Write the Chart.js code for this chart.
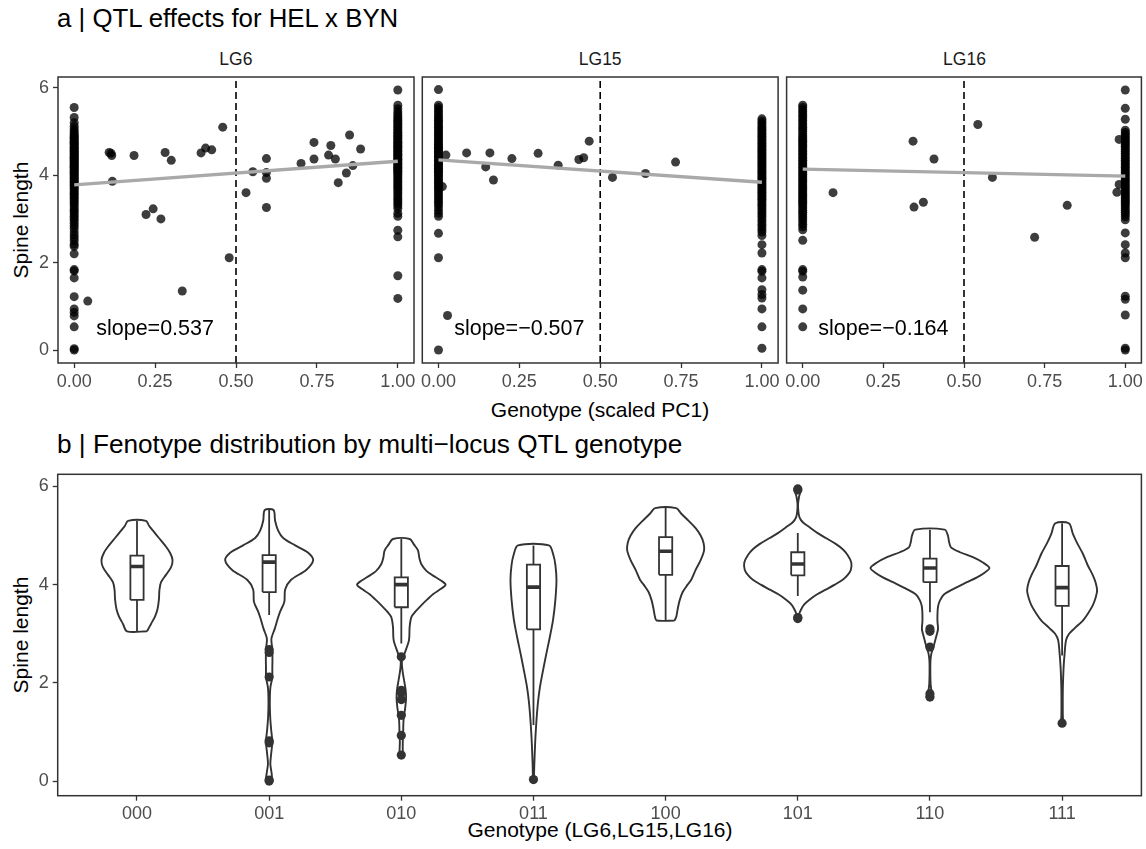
<!DOCTYPE html>
<html>
<head>
<meta charset="utf-8">
<script src="https://cdn.jsdelivr.net/npm/chart.js@4.4.0/dist/chart.umd.min.js"></script>
<style>
html,body{margin:0;padding:0;background:#fff;}
#page{position:relative;width:1146px;height:849px;overflow:hidden;background:#fff;font-family:"Liberation Sans",Arial,Helvetica,sans-serif;}
.wrap{position:absolute;}
.txt{position:absolute;white-space:nowrap;line-height:1;color:#000;}
.ctr{transform:translateX(-50%);}
.rot{transform:translate(-50%,-50%) rotate(-90deg);}
</style>
</head>
<body>
<div id="page">
  <div class="txt" style="left:57px;top:6.2px;font-size:25.8px;">a | QTL effects for HEL x BYN</div>
  <div class="txt ctr" style="left:235.9px;top:51px;font-size:17.5px;color:#1A1A1A;">LG6</div>
  <div class="txt ctr" style="left:600.2px;top:51px;font-size:17.5px;color:#1A1A1A;">LG15</div>
  <div class="txt ctr" style="left:964.5px;top:51px;font-size:17.5px;color:#1A1A1A;">LG16</div>
  <div class="txt rot" style="left:19.6px;top:220px;font-size:21px;">Spine length</div>
  <div class="txt ctr" style="left:600px;top:399.2px;font-size:21px;">Genotype (scaled PC1)</div>
  <div class="txt" style="left:57px;top:431px;font-size:26.2px;">b | Fenotype distribution by multi−locus QTL genotype</div>
  <div class="txt rot" style="left:19.6px;top:635px;font-size:21px;">Spine length</div>
  <div class="txt ctr" style="left:600px;top:819.2px;font-size:21px;">Genotype (LG6,LG15,LG16)</div>

  <div class="wrap" style="left:0px;top:40px;width:420px;height:360px;"><canvas id="f1"></canvas></div>
  <div class="wrap" style="left:416px;top:40px;width:370px;height:360px;"><canvas id="f2"></canvas></div>
  <div class="wrap" style="left:780px;top:40px;width:366px;height:360px;"><canvas id="f3"></canvas></div>
  <div class="wrap" style="left:0px;top:440px;width:1146px;height:409px;"><canvas id="vb"></canvas></div>
</div>
<script>
// ---------------- DATA ----------------
const facetLabels = ['LG6', 'LG15', 'LG16'];
const slopeLabels = ['slope=0.537', 'slope=−0.507', 'slope=−0.164'];
const xTicksA = [0, 0.25, 0.5, 0.75, 1];
const yTicks = [0, 2, 4, 6];

// LG6: spine length of individuals at genotype 0 and 1, plus intermediate genotypes
const lg6At0 = [5.55, 5.32, 5.2, 5.12, 5.06, 5.01, 4.97, 4.93, 4.9, 4.87, 4.84, 4.81, 4.78, 4.75, 4.73, 4.7, 4.67, 4.64, 4.62, 4.59, 4.56, 4.54, 4.51, 4.49, 4.46, 4.44, 4.41, 4.39, 4.36, 4.33, 4.31, 4.28, 4.26, 4.23, 4.2, 4.18, 4.15, 4.12, 4.1, 4.07, 4.04, 4.01, 3.98, 3.95, 3.92, 3.89, 3.86, 3.83, 3.8, 3.77, 3.73, 3.7, 3.66, 3.62, 3.59, 3.55, 3.51, 3.47, 3.43, 3.39, 3.35, 3.3, 3.25, 3.2, 3.16, 3.11, 3.06, 3.01, 2.96, 2.9, 2.84, 2.78, 2.7, 2.63, 2.57, 2.5, 2.42, 2.37, 2.2, 1.84, 1.81, 1.65, 1.22, 0.94, 0.86, 0.78, 0.53, 0.03, 0.0];
const lg6At1 = [5.95, 5.6, 5.52, 5.45, 5.4, 5.35, 5.3, 5.26, 5.22, 5.18, 5.14, 5.1, 5.06, 5.02, 4.98, 4.95, 4.91, 4.88, 4.85, 4.82, 4.78, 4.75, 4.72, 4.69, 4.66, 4.63, 4.6, 4.57, 4.54, 4.51, 4.48, 4.45, 4.42, 4.39, 4.36, 4.33, 4.3, 4.27, 4.24, 4.21, 4.18, 4.15, 4.12, 4.09, 4.06, 4.02, 3.98, 3.94, 3.9, 3.86, 3.82, 3.78, 3.74, 3.7, 3.65, 3.6, 3.55, 3.5, 3.45, 3.4, 3.35, 3.3, 3.24, 3.13, 3.06, 2.74, 2.59, 1.7, 1.18];
const lg6MidX = [0.042, 0.108, 0.114, 0.116, 0.118, 0.185, 0.222, 0.244, 0.268, 0.281, 0.300, 0.334, 0.392, 0.406, 0.425, 0.459, 0.479, 0.531, 0.552, 0.594, 0.594, 0.594, 0.594, 0.701, 0.741, 0.741, 0.786, 0.793, 0.807, 0.816, 0.841, 0.851, 0.861, 0.885];
const lg6MidY = [1.12, 4.52, 4.50, 4.45, 3.86, 4.45, 3.10, 3.23, 3.00, 4.52, 4.34, 1.35, 4.51, 4.62, 4.58, 5.10, 2.11, 3.60, 4.08, 4.38, 4.06, 3.93, 3.26, 4.27, 4.75, 4.37, 4.46, 4.68, 4.37, 3.83, 4.05, 4.92, 4.22, 4.60];
const lg6Fit = [3.78, 4.32];

// LG15
const lg15At0 = [5.96, 5.6, 5.55, 5.5, 5.45, 5.4, 5.35, 5.3, 5.26, 5.22, 5.18, 5.14, 5.1, 5.06, 5.02, 4.98, 4.94, 4.9, 4.86, 4.82, 4.78, 4.74, 4.7, 4.67, 4.64, 4.61, 4.58, 4.55, 4.52, 4.49, 4.46, 4.43, 4.4, 4.37, 4.34, 4.31, 4.28, 4.25, 4.22, 4.19, 4.16, 4.13, 4.1, 4.07, 4.04, 4.0, 3.96, 3.92, 3.88, 3.84, 3.8, 3.76, 3.72, 3.68, 3.63, 3.58, 3.53, 3.48, 3.43, 3.38, 3.33, 3.27, 3.2, 3.13, 3.06, 2.67, 2.11, 0.0];
const lg15At1 = [5.29, 5.24, 5.19, 5.14, 5.09, 5.05, 5.01, 4.97, 4.93, 4.89, 4.85, 4.81, 4.77, 4.73, 4.69, 4.65, 4.61, 4.57, 4.53, 4.49, 4.45, 4.41, 4.37, 4.33, 4.29, 4.25, 4.21, 4.17, 4.13, 4.09, 4.05, 4.01, 3.97, 3.93, 3.89, 3.85, 3.81, 3.77, 3.73, 3.69, 3.65, 3.61, 3.57, 3.53, 3.49, 3.45, 3.41, 3.36, 3.31, 3.26, 3.21, 3.16, 3.11, 3.06, 3.0, 2.94, 2.88, 2.82, 2.76, 2.7, 2.62, 2.41, 2.22, 1.84, 1.8, 1.65, 1.38, 1.27, 1.19, 0.94, 0.53, 0.04];
const lg15MidX = [0.012, 0.023, 0.028, 0.087, 0.146, 0.159, 0.170, 0.227, 0.308, 0.370, 0.434, 0.449, 0.466, 0.538, 0.640, 0.733];
const lg15MidY = [3.74, 4.46, 0.79, 4.51, 4.19, 4.51, 3.89, 4.38, 4.50, 4.23, 4.36, 4.40, 4.78, 3.95, 4.04, 4.30];
const lg15Fit = [4.35, 3.84];

// LG16
const lg16At0 = [5.6, 5.55, 5.5, 5.45, 5.4, 5.35, 5.3, 5.25, 5.2, 5.15, 5.1, 5.05, 5.0, 4.95, 4.9, 4.86, 4.82, 4.78, 4.74, 4.7, 4.66, 4.62, 4.58, 4.54, 4.5, 4.46, 4.42, 4.38, 4.34, 4.3, 4.26, 4.22, 4.18, 4.14, 4.1, 4.06, 4.02, 3.98, 3.94, 3.9, 3.86, 3.82, 3.78, 3.74, 3.7, 3.66, 3.62, 3.58, 3.54, 3.5, 3.46, 3.42, 3.38, 3.34, 3.3, 3.25, 3.2, 3.15, 3.1, 3.05, 3.0, 2.94, 2.88, 2.82, 2.75, 2.51, 1.84, 1.8, 1.67, 1.37, 0.94, 0.53];
const lg16At1 = [5.95, 5.53, 5.28, 5.03, 4.98, 4.94, 4.9, 4.86, 4.82, 4.78, 4.74, 4.7, 4.66, 4.62, 4.58, 4.54, 4.5, 4.46, 4.42, 4.38, 4.34, 4.3, 4.26, 4.22, 4.18, 4.14, 4.1, 4.06, 4.02, 3.98, 3.94, 3.9, 3.86, 3.82, 3.78, 3.74, 3.7, 3.66, 3.62, 3.58, 3.54, 3.5, 3.46, 3.42, 3.38, 3.34, 3.3, 3.25, 3.2, 3.15, 3.1, 3.05, 2.98, 2.68, 2.41, 2.22, 2.11, 1.23, 1.16, 0.8, 0.04, 0.0];
const lg16MidX = [0.094, 0.342, 0.345, 0.374, 0.407, 0.543, 0.588, 0.719, 0.820, 0.974, 0.981, 0.981];
const lg16MidY = [3.60, 4.78, 3.27, 3.38, 4.37, 5.16, 3.95, 2.58, 3.31, 3.61, 4.82, 3.79];
const lg16Fit = [4.14, 3.98];

// Panel b: multi-locus genotypes
const genotypes = ['000', '001', '010', '011', '100', '101', '110', '111'];
// violin profiles: spine length levels and half-widths (in category units)
const v000Y = [3.05, 3.2, 3.35, 3.5, 3.7, 3.9, 4.05, 4.2, 4.35, 4.5, 4.65, 4.8, 4.95, 5.1, 5.2, 5.3];
const v000W = [0.076, 0.106, 0.136, 0.155, 0.166, 0.170, 0.182, 0.219, 0.257, 0.269, 0.250, 0.212, 0.166, 0.121, 0.091, 0.068];
const v001Y = [0.0, 0.15, 0.35, 0.55, 0.8, 1.05, 1.3, 1.6, 1.9, 2.1, 2.3, 2.5, 2.7, 2.9, 3.1, 3.3, 3.45, 3.65, 3.9, 4.1, 4.3, 4.5, 4.65, 4.8, 4.95, 5.1, 5.3, 5.52];
const v001W = [0.023, 0.019, 0.009, 0.015, 0.024, 0.015, 0.008, 0.005, 0.009, 0.023, 0.024, 0.025, 0.023, 0.017, 0.042, 0.064, 0.083, 0.115, 0.121, 0.166, 0.280, 0.333, 0.295, 0.197, 0.106, 0.068, 0.045, 0.033];
const v010Y = [0.53, 0.8, 1.0, 1.25, 1.5, 1.7, 1.85, 2.05, 2.25, 2.45, 2.6, 2.87, 3.14, 3.34, 3.45, 3.58, 3.7, 3.81, 3.92, 4.0, 4.08, 4.15, 4.28, 4.42, 4.55, 4.7, 4.82, 4.93];
const v010W = [0.011, 0.011, 0.014, 0.017, 0.030, 0.036, 0.033, 0.021, 0.009, 0.005, 0.025, 0.058, 0.063, 0.076, 0.106, 0.151, 0.197, 0.242, 0.303, 0.335, 0.303, 0.260, 0.190, 0.151, 0.136, 0.126, 0.095, 0.064];
const v011Y = [0.03, 0.3, 0.6, 0.9, 1.25, 1.6, 1.9, 2.25, 2.6, 2.95, 3.3, 3.7, 4.1, 4.4, 4.6, 4.8];
const v011W = [0.003, 0.006, 0.010, 0.015, 0.023, 0.034, 0.048, 0.072, 0.098, 0.125, 0.149, 0.166, 0.174, 0.166, 0.151, 0.117];
const v100Y = [3.27, 3.35, 3.5, 3.68, 3.85, 4.0, 4.1, 4.3, 4.5, 4.7, 4.85, 5.0, 5.15, 5.3, 5.45, 5.56];
const v100W = [0.068, 0.081, 0.091, 0.106, 0.129, 0.166, 0.194, 0.227, 0.265, 0.291, 0.287, 0.265, 0.227, 0.174, 0.117, 0.079];
const v101Y = [3.31, 3.4, 3.5, 3.6, 3.7, 3.8, 3.9, 4.0, 4.1, 4.2, 4.3, 4.45, 4.6, 4.72, 4.83, 4.95, 5.05, 5.17, 5.27, 5.37, 5.5, 5.64, 5.78, 5.93];
const v101W = [0.019, 0.011, 0.026, 0.049, 0.091, 0.144, 0.212, 0.280, 0.340, 0.378, 0.401, 0.405, 0.378, 0.340, 0.287, 0.212, 0.151, 0.089, 0.038, 0.013, 0.004, 0.002, 0.009, 0.019];
const v110Y = [1.71, 1.8, 1.95, 2.2, 2.45, 2.6, 2.72, 2.85, 3.0, 3.1, 3.25, 3.4, 3.55, 3.68, 3.8, 3.92, 4.05, 4.15, 4.25, 4.34, 4.45, 4.56, 4.66, 4.76, 4.88, 5.0, 5.12];
const v110W = [0.026, 0.015, 0.006, 0.003, 0.004, 0.011, 0.026, 0.038, 0.053, 0.061, 0.057, 0.057, 0.061, 0.076, 0.106, 0.182, 0.280, 0.356, 0.416, 0.450, 0.401, 0.325, 0.227, 0.159, 0.144, 0.136, 0.111];
const v111Y = [1.18, 1.3, 1.6, 1.92, 2.3, 2.6, 2.87, 3.0, 3.12, 3.27, 3.42, 3.58, 3.73, 3.88, 4.05, 4.2, 4.4, 4.63, 4.85, 5.04, 5.25];
const v111W = [0.011, 0.006, 0.005, 0.006, 0.011, 0.019, 0.030, 0.053, 0.098, 0.157, 0.197, 0.232, 0.253, 0.265, 0.253, 0.231, 0.193, 0.157, 0.113, 0.081, 0.051];

// boxplot statistics
const boxQ1 = [3.69, 3.85, 3.54, 3.09, 4.20, 4.19, 4.05, 3.57];
const boxMedian = [4.37, 4.46, 4.00, 3.95, 4.68, 4.42, 4.34, 3.94];
const boxQ3 = [4.59, 4.60, 4.15, 4.41, 4.97, 4.66, 4.53, 4.38];
const whiskerLow = [3.05, 3.38, 2.80, 1.14, 3.27, 3.77, 3.44, 2.56];
const whiskerHigh = [5.30, 5.52, 4.93, 4.80, 5.56, 5.05, 5.12, 5.25];
const out000 = [];
const out001 = [2.68, 2.62, 2.12, 0.82, 0.78, 0.02, 0.0];
const out010 = [2.53, 1.85, 1.80, 1.66, 1.34, 0.93, 0.53];
const out011 = [0.03];
const out100 = [];
const out101 = [5.95, 5.93, 3.33, 3.31];
const out110 = [3.10, 3.05, 2.73, 1.78, 1.71];
const out111 = [1.18];

// ---------------- DRAWING ----------------
const FONT = '"Liberation Sans", Arial, Helvetica, sans-serif';
const Y_MIN = -0.2975, Y_MAX = 6.2475;
const TICK_FONT = {family: FONT, size: 18};
const TICK_COLOR = '#4D4D4D';
const DARK = '#333333';
Chart.defaults.font.family = FONT;
Chart.defaults.devicePixelRatio = 1;

const framePlugin = {
  id: 'frame',
  afterDraw(chart) {
    const a = chart.chartArea, ctx = chart.ctx;
    ctx.save();
    ctx.strokeStyle = DARK;
    ctx.lineWidth = 1.5;
    ctx.strokeRect(a.left, a.top, a.right - a.left, a.bottom - a.top);
    ctx.restore();
  }
};
const slopePlugin = {
  id: 'slopeText',
  afterDatasetsDraw(chart, args, opts) {
    if (!opts || !opts.text) return;
    const ctx = chart.ctx;
    const px = chart.scales.x.getPixelForValue(opts.x);
    const py = chart.scales.y.getPixelForValue(opts.y);
    ctx.save();
    ctx.font = '21.5px ' + FONT;
    ctx.fillStyle = '#000';
    ctx.textAlign = 'center';
    ctx.textBaseline = 'middle';
    ctx.fillText(opts.text, px, py);
    ctx.restore();
  }
};

function yAxis(show, width) {
  return {
    type: 'linear', min: Y_MIN, max: Y_MAX, display: show,
    afterBuildTicks: s => { s.ticks = yTicks.map(v => ({value: v})); },
    afterFit: s => { s.width = show ? width : 0; },
    ticks: {font: TICK_FONT, color: TICK_COLOR, padding: 4, callback: v => String(v)},
    grid: {drawOnChartArea: false, drawTicks: true, tickLength: 5, tickColor: DARK, tickWidth: 1.3},
    border: {display: false}
  };
}

function facet(id, idx, at0, at1, midX, midY, fit, pad) {
  const pts = [];
  at0.forEach(y => pts.push({x: 0, y}));
  at1.forEach(y => pts.push({x: 1, y}));
  midX.forEach((x, i) => pts.push({x, y: midY[i]}));
  new Chart(document.getElementById(id), {
    type: 'scatter',
    data: {datasets: [
      {data: [{x: 0, y: fit[0]}, {x: 1, y: fit[1]}], showLine: true, borderColor: '#A9A9A9', borderWidth: 3.4, pointRadius: 0, order: 0},
      {data: [{x: 0.5, y: Y_MIN}, {x: 0.5, y: Y_MAX}], showLine: true, borderColor: '#000', borderWidth: 1.6, borderDash: [7, 4], pointRadius: 0, order: 1},
      {data: pts, pointRadius: 4.5, pointBackgroundColor: 'rgba(0,0,0,0.76)', pointBorderWidth: 0, order: 2}
    ]},
    options: {
      responsive: true, maintainAspectRatio: false, animation: false, events: [],
      layout: {padding: pad},
      plugins: {legend: {display: false}, tooltip: {enabled: false},
        slopeText: {text: slopeLabels[idx], x: 0.25, y: 0.47}},
      scales: {
        x: {
          type: 'linear', min: -0.05, max: 1.05,
          afterBuildTicks: s => { s.ticks = xTicksA.map(v => ({value: v})); },
          afterFit: s => { s.height = 37; },
          ticks: {font: TICK_FONT, color: TICK_COLOR, padding: 3, maxRotation: 0, autoSkip: false, callback: v => Number(v).toFixed(2)},
          grid: {drawOnChartArea: false, drawTicks: true, tickLength: 5, tickColor: DARK, tickWidth: 1.3},
          border: {display: false}
        },
        y: yAxis(idx === 0, 58)
      }
    },
    plugins: [framePlugin, slopePlugin]
  });
}

facet('f1', 0, lg6At0, lg6At1, lg6MidX, lg6MidY, lg6Fit, {top: 37, right: 6, left: 0, bottom: 0});
facet('f2', 1, lg15At0, lg15At1, lg15MidX, lg15MidY, lg15Fit, {top: 37, right: 7.9, left: 6.3, bottom: 0});
facet('f3', 2, lg16At0, lg16At1, lg16MidX, lg16MidY, lg16Fit, {top: 37, right: 3.6, left: 6.6, bottom: 0});

// ---- Panel b: violins + boxplots ----
const violinYs = [v000Y, v001Y, v010Y, v011Y, v100Y, v101Y, v110Y, v111Y];
const violinWs = [v000W, v001W, v010W, v011W, v100W, v101W, v110W, v111W];
const outliers = [out000, out001, out010, out011, out100, out101, out110, out111];
const BOX_HALF = 0.05;
const vDatasets = [];
genotypes.forEach((g, i) => {
  const c = i + 1;
  const ys = violinYs[i], ws = violinWs[i];
  const poly = [];
  for (let k = 0; k < ys.length; k++) poly.push({x: c + ws[k], y: ys[k]});
  for (let k = ys.length - 1; k >= 0; k--) poly.push({x: c - ws[k], y: ys[k]});
  poly.push({x: c + ws[0], y: ys[0]});
  vDatasets.push({data: poly, showLine: true, borderColor: DARK, borderWidth: 1.9, tension: 0.3, pointRadius: 0, fill: false, order: 5});
  // whiskers
  vDatasets.push({data: [{x: c, y: boxQ3[i]}, {x: c, y: whiskerHigh[i]}], showLine: true, borderColor: DARK, borderWidth: 1.8, pointRadius: 0, order: 4});
  vDatasets.push({data: [{x: c, y: whiskerLow[i]}, {x: c, y: boxQ1[i]}], showLine: true, borderColor: DARK, borderWidth: 1.8, pointRadius: 0, order: 4});
  // box
  vDatasets.push({data: [
      {x: c - BOX_HALF, y: boxQ1[i]}, {x: c + BOX_HALF, y: boxQ1[i]}, {x: c + BOX_HALF, y: boxQ3[i]},
      {x: c - BOX_HALF, y: boxQ3[i]}, {x: c - BOX_HALF, y: boxQ1[i]}],
    showLine: true, borderColor: DARK, borderWidth: 1.8, pointRadius: 0, order: 3});
  // median
  vDatasets.push({data: [{x: c - BOX_HALF, y: boxMedian[i]}, {x: c + BOX_HALF, y: boxMedian[i]}],
    showLine: true, borderColor: DARK, borderWidth: 3.6, pointRadius: 0, order: 2});
  // outliers
  vDatasets.push({data: outliers[i].map(y => ({x: c, y})), pointRadius: 4.6, pointBackgroundColor: DARK, pointBorderWidth: 0, order: 1});
});

new Chart(document.getElementById('vb'), {
  type: 'scatter',
  data: {datasets: vDatasets},
  options: {
    responsive: true, maintainAspectRatio: false, animation: false, events: [],
    layout: {padding: {top: 34.3, right: 3.7, left: 0, bottom: 0}},
    plugins: {legend: {display: false}, tooltip: {enabled: false}},
    scales: {
      x: {
        type: 'linear', min: 0.4, max: genotypes.length + 0.6,
        afterBuildTicks: s => { s.ticks = genotypes.map((g, i) => ({value: i + 1})); },
        afterFit: s => { s.height = 53.3; },
        ticks: {font: TICK_FONT, color: TICK_COLOR, padding: 3, maxRotation: 0, autoSkip: false,
          callback: v => genotypes[Math.round(v) - 1]},
        grid: {drawOnChartArea: false, drawTicks: true, tickLength: 5, tickColor: DARK, tickWidth: 1.3},
        border: {display: false}
      },
      y: yAxis(true, 57.7)
    }
  },
  plugins: [framePlugin]
});
</script>
</body>
</html>
